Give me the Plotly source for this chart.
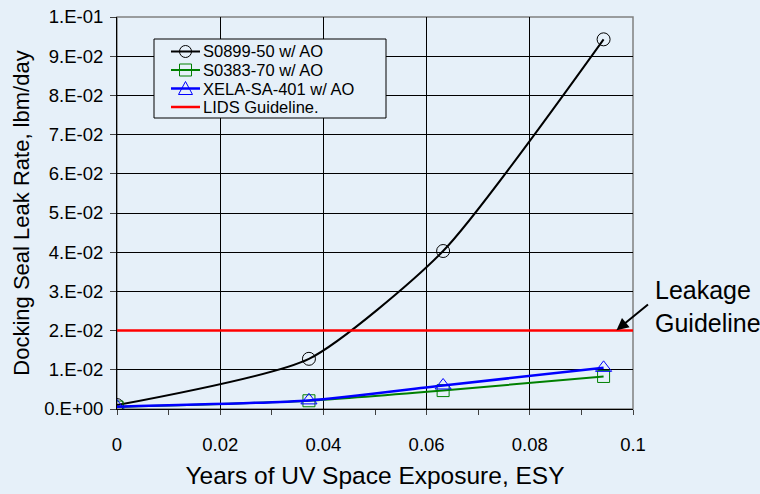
import plotly.graph_objects as go

esy = [0.0, 0.0372, 0.0632, 0.0943]
s0899 = [0.0010, 0.0128, 0.0403, 0.0943]
s0383 = [0.0005, 0.0021, 0.0047, 0.0083]
xela = [0.0006, 0.0022, 0.0060, 0.0105]
guide_x = [0.0, 0.1]
guide_y = [0.02, 0.02]

series_names = ["S0899-50 w/ AO", "S0383-70 w/ AO", "XELA-SA-401 w/ AO", "LIDS Guideline."]
series_colors = ["black", "#008000", "#0000FF", "#FF0000"]

y_ticks = [0.0, 0.01, 0.02, 0.03, 0.04, 0.05, 0.06, 0.07, 0.08, 0.09, 0.10]
y_labels = ["0.E+00", "1.E-02", "2.E-02", "3.E-02", "4.E-02", "5.E-02",
            "6.E-02", "7.E-02", "8.E-02", "9.E-02", "1.E-01"]
x_ticks = [0, 0.02, 0.04, 0.06, 0.08, 0.1]
x_labels = ["0", "0.02", "0.04", "0.06", "0.08", "0.1"]

BG = "#E6F0F9"
FONT = "Liberation Sans, Arial, sans-serif"
W, H = 760, 494
ML, MR, MT, MB = 117, 127, 17, 85


def px2x(px):
    return (px - ML) / (W - ML - MR)


def px2y(py):
    return (H - MB - py) / (H - MT - MB)


fig = go.Figure()
fig.add_trace(go.Scatter(x=esy, y=s0899, name=series_names[0], mode="lines+markers",
                         line=dict(color=series_colors[0], width=2, shape="spline", smoothing=0.6),
                         marker=dict(symbol="circle-open", size=13, color=series_colors[0], line=dict(width=1))))
fig.add_trace(go.Scatter(x=esy, y=s0383, name=series_names[1], mode="lines+markers",
                         line=dict(color=series_colors[1], width=2, shape="spline", smoothing=0.6),
                         marker=dict(symbol="square-open", size=12, color=series_colors[1], line=dict(width=1))))
fig.add_trace(go.Scatter(x=esy, y=xela, name=series_names[2], mode="lines+markers",
                         line=dict(color=series_colors[2], width=2.5, shape="spline", smoothing=0.6),
                         marker=dict(symbol="triangle-up-open", size=14, color=series_colors[2], line=dict(width=1))))
fig.add_trace(go.Scatter(x=guide_x, y=guide_y, name=series_names[3], mode="lines",
                         line=dict(color=series_colors[3], width=2.5)))

# --- hand-drawn legend (compact spacing like the original) ---
row_y = [51.5, 70.0, 88.5, 107.0]
fig.add_shape(type="rect", xref="paper", yref="paper",
              x0=px2x(154), x1=px2x(386), y0=px2y(118), y1=px2y(39),
              line=dict(color="black", width=1), fillcolor=BG, layer="above")
for i, (nm, col) in enumerate(zip(series_names, series_colors)):
    yy = px2y(row_y[i])
    fig.add_shape(type="line", xref="paper", yref="paper", x0=px2x(171), x1=px2x(200), y0=yy, y1=yy,
                  line=dict(color=col, width=2.5 if i >= 2 else 2), layer="above")
    fig.add_annotation(x=px2x(202), y=yy, xref="paper", yref="paper", text=nm, showarrow=False,
                       xanchor="left", yanchor="middle", borderpad=0,
                       font=dict(size=16.5, color="black", family=FONT))
cx = 185.5
fig.add_shape(type="circle", xref="paper", yref="paper",
              x0=px2x(cx - 6), x1=px2x(cx + 6), y0=px2y(row_y[0] + 6), y1=px2y(row_y[0] - 6),
              line=dict(color=series_colors[0], width=1), fillcolor="rgba(0,0,0,0)", layer="above")
fig.add_shape(type="rect", xref="paper", yref="paper",
              x0=px2x(cx - 6), x1=px2x(cx + 6), y0=px2y(row_y[1] + 6), y1=px2y(row_y[1] - 6),
              line=dict(color=series_colors[1], width=1), fillcolor="rgba(0,0,0,0)", layer="above")
ty = row_y[2]
fig.add_shape(type="path", xref="paper", yref="paper",
              path=f"M {px2x(cx - 7)} {px2y(ty + 6)} L {px2x(cx + 7)} {px2y(ty + 6)} L {px2x(cx)} {px2y(ty - 7)} Z",
              line=dict(color=series_colors[2], width=1), fillcolor="rgba(0,0,0,0)", layer="above")

# --- leakage guideline callout ---
fig.add_annotation(x=0.0968, y=0.0201, xref="x", yref="y", ax=33, ay=-27,
                   showarrow=True, arrowhead=2, arrowsize=1.2, arrowwidth=2, arrowcolor="black", text="")
fig.add_annotation(x=px2x(653), y=px2y(306), xref="paper", yref="paper",
                   text="Leakage<br>Guideline", showarrow=False,
                   font=dict(size=25, color="black", family=FONT), align="left",
                   xanchor="left", yanchor="middle")

fig.add_shape(type="rect", xref="paper", yref="paper", x0=0, y0=0, x1=1, y1=1,
              line=dict(color="#808080", width=1.5), layer="below")

fig.update_layout(
    width=W, height=H,
    paper_bgcolor=BG, plot_bgcolor=BG,
    margin=dict(l=ML, r=MR, t=MT, b=MB),
    font=dict(family=FONT, size=18.5, color="black"),
    showlegend=False,
    xaxis=dict(range=[0, 0.1], tickvals=x_ticks, ticktext=x_labels, automargin=False,
               showgrid=True, gridcolor="black", gridwidth=1, zeroline=False,
               showline=True, linecolor="black", linewidth=1,
               ticks="outside", ticklen=5, tickcolor="#404040",
               minor=dict(dtick=0.01, ticks="outside", ticklen=5, tickcolor="#404040", showgrid=False),
               ticklabelstandoff=14,
               title=dict(text="Years of UV Space Exposure, ESY", font=dict(size=24.5), standoff=12)),
    yaxis=dict(range=[0, 0.1], tickvals=y_ticks, ticktext=y_labels, automargin=False,
               showgrid=True, gridcolor="black", gridwidth=1, zeroline=False,
               showline=True, linecolor="black", linewidth=1,
               ticks="outside", ticklen=6, tickcolor="#404040",
               ticklabelstandoff=3,
               title=dict(text="Docking Seal Leak Rate, lbm/day", font=dict(size=22), standoff=8)),
)

fig.write_html("out.html", config={"displayModeBar": False},
               post_script="document.body.style.margin='0';document.body.style.background='#E6F0F9';")
